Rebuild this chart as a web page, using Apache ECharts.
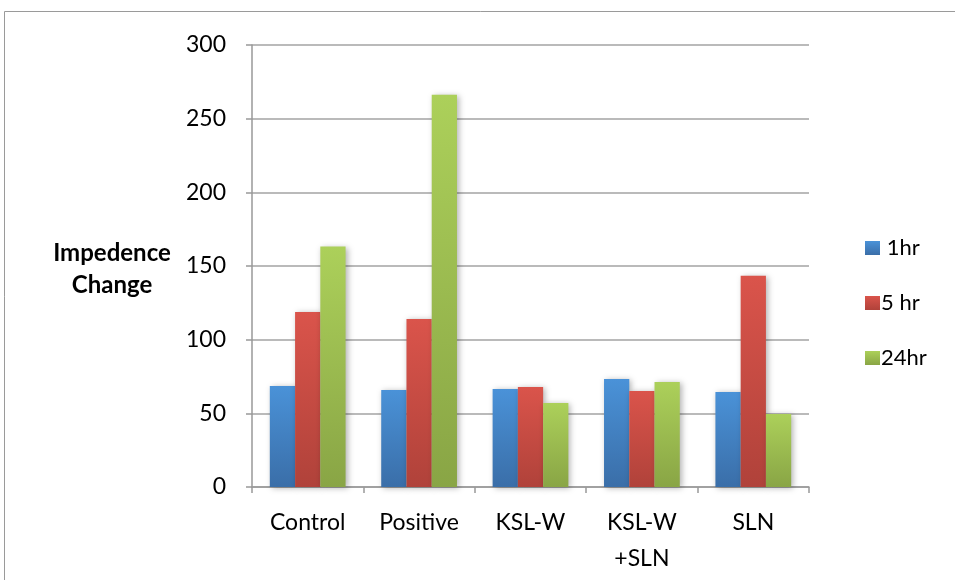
<!DOCTYPE html>
<html>
<head>
<meta charset="utf-8">
<script src="https://cdn.jsdelivr.net/npm/echarts@6/dist/echarts.min.js"></script>
<style>
  html, body { margin: 0; padding: 0; background: #fff; }
  #main { width: 955px; height: 580px; }
</style>
</head>
<body>
<div id="main"></div>
<script>
// data
var categories = ['Control', 'Positive', 'KSL-W', 'KSL-W\n+SLN', 'SLN'];
var seriesNames = [' 1hr', '5 hr', '24hr'];
var hr1 = [68.6, 65.9, 66.5, 73.3, 64.5];
var hr5 = [118.8, 114.1, 67.9, 65.2, 143.3];
var hr24 = [163.2, 266.2, 57, 71.3, 49.6];
var yTicks = [0, 50, 100, 150, 200, 250, 300];

var colours = [
    ['#4a92d8', '#3a6ea8'],
    ['#da544b', '#b0423a'],
    ['#acd05a', '#89a545']
];

function grad(c) {
    return new echarts.graphic.LinearGradient(0, 0, 0, 1, [
        {offset: 0, color: c[0]},
        {offset: 1, color: c[1]}
    ]);
}

function makeSeries(name, data, c) {
    return {
        name: name,
        type: 'bar',
        data: data,
        barGap: '0%',
        barCategoryGap: '32%',
        itemStyle: {
            color: grad(c),
            shadowBlur: 6,
            shadowColor: 'rgba(0,0,0,0.3)',
            shadowOffsetX: 2,
            shadowOffsetY: 1
        }
    };
}

var myChart = echarts.init(document.getElementById('main'));
var font = 'Lato, "Open Sans", sans-serif';

var option = {
    animation: false,
    textStyle: {fontFamily: font},
    grid: {left: 252, right: 146, top: 45, bottom: 93},
    graphic: [{
        type: 'rect',
        shape: {x: 4.5, y: 11.5, width: 1000, height: 700},
        style: {fill: null, stroke: '#9a9a9a', lineWidth: 1}
    }, {
        type: 'text',
        x: 112, y: 237,
        style: {
            text: 'Impedence\nChange',
            font: 'bold 24px ' + font,
            fill: '#000',
            align: 'center',
            lineHeight: 32
        }
    }],
    legend: {
        orient: 'vertical',
        left: 860, top: 232,
        itemWidth: 15, itemHeight: 14,
        itemGap: 33,
        icon: 'rect',
        textStyle: {fontSize: 22, color: '#000', fontFamily: font, padding: [0, 0, 0, -4]},
        data: seriesNames
    },
    xAxis: {
        type: 'category',
        data: categories,
        axisLine: {lineStyle: {color: '#999', width: 1.5}},
        axisTick: {show: true, length: 6, lineStyle: {color: '#999', width: 1.5}},
        axisLabel: {fontSize: 23, color: '#000', margin: 18, lineHeight: 36, fontFamily: font}
    },
    yAxis: {
        type: 'value',
        min: yTicks[0],
        max: yTicks[yTicks.length - 1],
        interval: 50,
        axisLine: {show: true, lineStyle: {color: '#999', width: 1.5}},
        axisTick: {show: true, length: 6, lineStyle: {color: '#999', width: 1.5}},
        splitLine: {lineStyle: {color: '#a3a3a3', width: 1.5}},
        axisLabel: {fontSize: 23, color: '#000', margin: 26, fontFamily: font}
    },
    series: [
        makeSeries(seriesNames[0], hr1, colours[0]),
        makeSeries(seriesNames[1], hr5, colours[1]),
        makeSeries(seriesNames[2], hr24, colours[2])
    ]
};

myChart.setOption(option);
</script>
</body>
</html>
